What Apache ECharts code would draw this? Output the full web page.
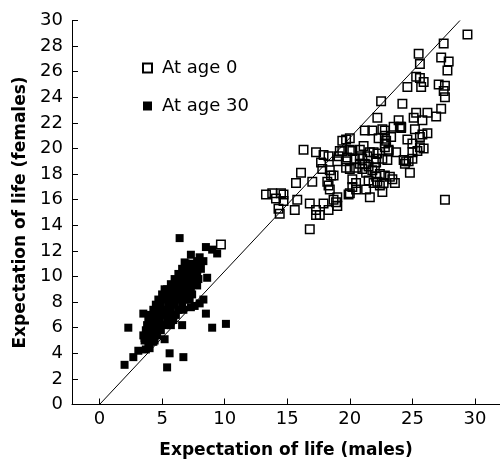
<!DOCTYPE html>
<html>
<head>
<meta charset="utf-8">
<script src="https://cdn.jsdelivr.net/npm/echarts@6/dist/echarts.min.js"></script>
<style>
    html, body { margin: 0; padding: 0; background: #fff; }
    #chart { width: 500px; height: 463px; }
</style>
</head>
<body>
<div id="chart"></div>
<script>
// [males, females] expectation of life
const atAge0 = [
    [29.4, 28.9], [27.5, 28.2], [25.5, 27.4], [27.3, 27.1], [27.9, 26.8], [25.6, 26.6], [27.8, 26.1],
    [25.3, 25.6], [25.6, 25.5], [25.9, 25.2], [25.7, 24.8], [24.6, 24.8], [27.1, 25.0], [27.6, 24.9],
    [27.5, 24.5], [27.6, 24.0], [22.5, 23.7], [24.2, 23.5], [27.3, 23.1], [26.9, 22.5], [26.2, 22.8],
    [25.3, 22.8], [25.1, 22.4], [25.8, 22.2], [22.2, 22.4], [23.9, 22.2], [24.0, 21.7], [24.1, 21.7],
    [24.1, 21.6], [23.5, 21.7], [21.2, 21.4], [21.8, 21.4], [22.6, 21.5], [22.8, 21.4], [25.2, 21.5],
    [26.2, 21.2], [25.8, 21.1], [25.6, 20.9], [22.3, 20.8], [22.8, 21.0], [23.3, 20.9], [24.6, 20.7],
    [20.0, 20.8], [19.4, 20.6], [19.7, 20.7], [21.1, 20.2], [20.8, 19.9], [22.9, 20.6], [22.8, 20.1],
    [22.8, 20.4], [23.1, 19.9], [25.0, 20.4], [25.6, 20.1], [25.9, 20.0], [25.4, 19.8], [25.0, 19.7],
    [16.3, 19.9], [17.3, 19.7], [17.9, 19.5], [18.3, 19.4], [19.2, 19.8], [19.4, 19.8], [20.0, 19.9],
    [20.2, 19.8], [21.6, 19.7], [21.9, 19.7], [22.2, 19.6], [23.1, 19.8], [23.7, 19.7], [19.1, 19.4],
    [19.8, 19.3], [20.4, 19.2], [20.8, 19.4], [21.0, 19.2], [21.4, 19.4], [22.1, 19.2], [22.6, 19.2],
    [23.0, 19.1], [17.7, 18.9], [19.0, 19.0], [19.7, 19.0], [24.3, 19.1], [24.5, 19.0], [24.7, 19.0],
    [25.0, 19.2], [24.4, 18.8], [20.8, 18.8], [21.2, 18.8], [21.5, 18.6], [22.1, 18.9], [16.1, 18.1],
    [17.8, 18.4], [18.4, 18.3], [18.5, 17.9], [18.7, 17.9], [19.7, 18.5], [20.0, 18.4], [20.5, 18.5],
    [21.0, 18.4], [21.3, 18.1], [21.8, 18.3], [22.0, 18.5], [22.4, 18.0], [22.1, 17.8], [22.8, 17.9],
    [23.2, 17.8], [23.6, 17.3], [23.4, 17.6], [24.8, 18.1], [20.2, 17.6], [20.5, 17.3], [20.2, 17.0],
    [20.5, 16.8], [18.2, 17.4], [18.3, 17.1], [18.4, 16.8], [15.7, 17.3], [17.0, 17.4], [21.5, 17.5],
    [21.9, 17.3], [22.2, 17.4], [22.4, 17.1], [22.7, 17.3], [21.3, 16.8], [21.6, 16.2], [22.6, 16.6],
    [20.0, 16.5], [19.9, 16.4], [13.3, 16.4], [13.8, 16.5], [14.1, 16.1], [14.5, 16.5], [14.7, 16.4],
    [14.7, 15.9], [15.8, 16.0], [15.6, 15.2], [14.3, 15.3], [14.4, 14.9], [16.8, 15.7], [17.3, 15.2],
    [17.3, 14.8], [17.6, 14.8], [17.9, 15.7], [18.3, 15.2], [18.7, 16.0], [18.9, 15.8], [19.0, 16.2],
    [19.0, 15.5], [16.8, 13.7], [27.6, 16.0], [9.7, 12.5]
]

const atAge30 = [
    // scattered ones
    [6.4, 13.0], [8.5, 12.3], [9.0, 12.1], [9.4, 11.8], [7.3, 11.7], [8.0, 11.5], [7.8, 11.2],
    [8.3, 11.2], [6.8, 11.1], [7.0, 10.8], [7.5, 10.8], [6.7, 10.5], [7.2, 10.4], [7.8, 10.5],
    [8.6, 9.9], [5.2, 9.0], [7.8, 9.3], [8.3, 8.2], [8.0, 7.9], [7.6, 7.7], [7.3, 7.6], [3.5, 7.1],
    [8.5, 7.1], [2.3, 6.0], [6.6, 6.2], [9.0, 6.0], [10.1, 6.3], [3.5, 5.4], [3.6, 5.2], [5.2, 5.1],
    [4.3, 4.9], [4.0, 4.4], [3.1, 4.2], [2.7, 3.7], [5.6, 4.0], [6.7, 3.7], [2.0, 3.1], [5.4, 2.9],
    [3.7, 4.3], [3.9, 4.5],
    // the dense band
    [3.6, 5.0], [4.0, 5.0], [4.4, 5.0], [3.7, 5.4], [4.1, 5.4], [4.6, 5.4],
    [3.7, 5.8], [4.0, 5.8], [4.4, 5.8], [4.9, 5.8], [3.8, 6.2], [4.2, 6.2], [4.7, 6.2], [5.3, 6.2], [5.7, 6.2],
    [3.9, 6.6], [4.3, 6.6], [4.8, 6.6], [5.4, 6.6], [5.9, 6.6], [4.1, 7.0], [4.5, 7.0], [5.0, 7.0], [5.6, 7.0], [6.1, 7.0],
    [4.3, 7.4], [4.7, 7.4], [5.2, 7.4], [5.7, 7.4], [6.3, 7.4], [6.7, 7.4],
    [4.5, 7.8], [4.9, 7.8], [5.5, 7.8], [6.0, 7.8], [6.6, 7.8],
    [4.7, 8.2], [5.2, 8.2], [5.7, 8.2], [6.2, 8.2], [6.8, 8.2], [7.2, 8.2],
    [5.0, 8.6], [5.4, 8.6], [6.0, 8.6], [6.5, 8.6], [7.0, 8.6], [7.4, 8.6],
    [5.4, 9.0], [5.8, 9.0], [6.3, 9.0], [6.8, 9.0], [7.3, 9.0],
    [5.7, 9.4], [6.1, 9.4], [6.6, 9.4], [7.1, 9.4], [7.6, 9.4],
    [6.0, 9.8], [6.4, 9.8], [6.9, 9.8], [7.4, 9.8], [7.9, 9.8],
    [6.3, 10.2], [6.8, 10.2], [7.3, 10.2], [7.8, 10.2],
    [6.6, 10.6], [7.1, 10.6], [7.6, 10.6], [8.1, 10.6], [6.9, 11.0], [7.4, 11.0], [7.9, 11.0]
]

const diagonal = [[0, 0], [28.8, 30]]
const xTicks = [0, 5, 10, 15, 20, 25, 30]

const font = 'DejaVu Sans'
const chart = echarts.init(document.getElementById('chart'))
chart.setOption({
    animation: false,
    backgroundColor: '#fff',
    grid: { left: 72, right: 0, top: 20.5, bottom: 58.5, outerBoundsMode: 'none' },
    legend: [
        {
            data: ['At age 0'],
            left: 137, top: 54,
            itemWidth: 9, itemHeight: 9,
            textStyle: { fontFamily: font, fontSize: 18, color: '#000', padding: [0, 0, 0, 5] },
        },
        {
            data: ['At age 30'],
            left: 138, top: 92,
            itemWidth: 9, itemHeight: 9,
            textStyle: { fontFamily: font, fontSize: 18, color: '#000', padding: [0, 0, 0, 5] },
        },
    ],
    xAxis: {
        type: 'value',
        min: -2.2,
        max: 32,
        name: 'Expectation of life (males)',
        nameLocation: 'middle',
        nameGap: 38,
        nameTextStyle: { fontFamily: font, fontSize: 17, fontWeight: 'bold', color: '#000' },
        axisLine: { onZero: false, lineStyle: { color: '#000', width: 1 } },
        axisTick: { inside: true, length: 6, customValues: xTicks, lineStyle: { color: '#000' } },
        axisLabel: { customValues: xTicks, fontFamily: font, fontSize: 18, color: '#000', margin: 6 },
        splitLine: { show: false },
    },
    yAxis: {
        type: 'value',
        min: 0,
        max: 30,
        interval: 2,
        name: 'Expectation of life (females)',
        nameLocation: 'middle',
        nameGap: 43,
        nameTextStyle: { fontFamily: font, fontSize: 17, fontWeight: 'bold', color: '#000' },
        axisLine: { show: true, onZero: false, lineStyle: { color: '#000', width: 1 } },
        axisTick: { show: true, inside: true, length: 6, lineStyle: { color: '#000' } },
        axisLabel: { fontFamily: font, fontSize: 18, color: '#000', margin: 9 },
        splitLine: { show: false },
    },
    series: [
        {
            name: 'line',
            type: 'line',
            data: diagonal,
            symbol: 'none',
            silent: true,
            lineStyle: { color: '#000', width: 1 },
        },
        {
            name: 'At age 0',
            type: 'scatter',
            data: atAge0,
            symbol: 'rect',
            symbolSize: 8.5,
            itemStyle: { color: 'rgba(255,255,255,0)', borderColor: '#000', borderWidth: 1.5, opacity: 1 },
        },
        {
            name: 'At age 30',
            type: 'scatter',
            data: atAge30,
            symbol: 'rect',
            symbolSize: 8,
            itemStyle: { color: '#000', opacity: 1 },
        },
    ],
})
</script>
</body>
</html>
